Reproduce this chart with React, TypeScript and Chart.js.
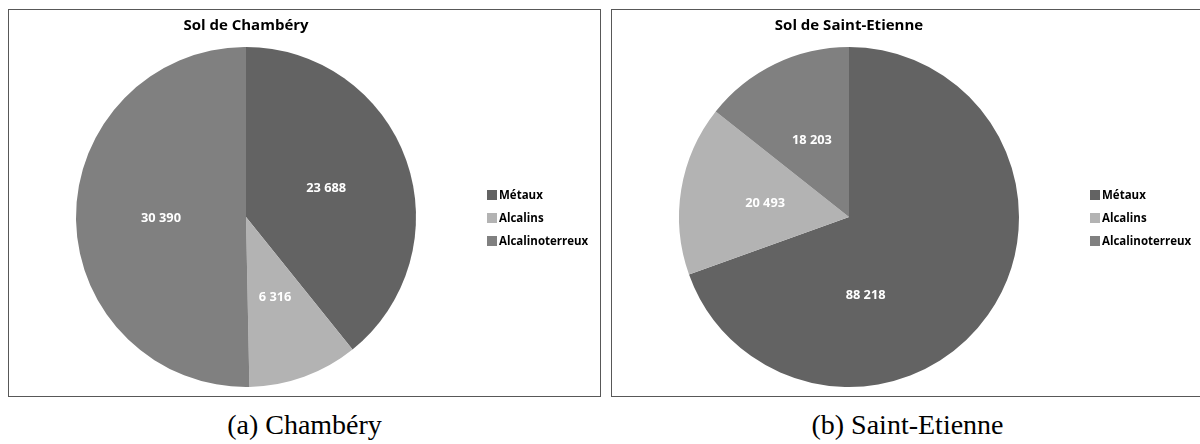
import React, { useEffect, useRef } from 'react';
import { Chart, registerables } from 'chart.js';

Chart.register(...registerables);

const CATEGORIES = ['Métaux', 'Alcalins', 'Alcalinoterreux'];
const COLORS = ['#636363', '#b3b3b3', '#808080'];
const CHAMBERY_VALUES = [23688, 6316, 30390];
const SAINT_ETIENNE_VALUES = [88218, 20493, 18203];
const TITLES = ['Sol de Chambéry', 'Sol de Saint-Etienne'];
const CAPTIONS = ['(a) Chambéry', '(b) Saint-Etienne'];

const FONT = '"Open Sans"';

const fmt = (v: number) => String(v).replace(/\B(?=(\d{3})+(?!\d))/g, ' ');

const sliceLabelsPlugin = {
  id: 'sliceLabels',
  afterDatasetsDraw(chart: any, _args: any, opts: any) {
    const ctx = chart.ctx;
    const meta = chart.getDatasetMeta(0);
    const data = chart.data.datasets[0].data as number[];
    const colors = chart.data.datasets[0].backgroundColor as string[];
    const labels = chart.data.labels as string[];
    ctx.save();
    ctx.font = `bold 12.8px ${FONT}`;
    ctx.fillStyle = '#ffffff';
    ctx.textAlign = 'center';
    ctx.textBaseline = 'middle';
    let cy = 0;
    meta.data.forEach((arc: any, i: number) => {
      const p = arc.getProps(['x', 'y', 'startAngle', 'endAngle', 'outerRadius'], true);
      cy = p.y;
      let ang = (p.startAngle + p.endAngle) / 2;
      let frac = opts.frac ?? 0.5;
      const ov = opts.overrides && opts.overrides[i];
      if (ov) {
        ang = (ov.angle * Math.PI) / 180 - Math.PI / 2;
        frac = ov.frac;
      }
      ctx.fillText(
        fmt(data[i]),
        p.x + Math.cos(ang) * p.outerRadius * frac,
        p.y + Math.sin(ang) * p.outerRadius * frac
      );
    });
    // legend
    const lx = chart.chartArea.right + 4;
    ctx.font = `bold 11.5px ${FONT}`;
    ctx.textAlign = 'left';
    labels.forEach((lab, i) => {
      const y = cy + 1 + (i - 1) * 23;
      ctx.fillStyle = colors[i];
      ctx.fillRect(lx, y - 5, 10, 10);
      ctx.fillStyle = '#000000';
      ctx.fillText(lab, lx + 12, y + 0.5);
    });
    ctx.restore();
  },
};

function PieChart({ title, values, overrides }: { title: string; values: number[]; overrides?: any }) {
  const ref = useRef<HTMLCanvasElement | null>(null);
  useEffect(() => {
    if (!ref.current) return;
    const chart = new Chart(ref.current, {
      type: 'pie',
      data: {
        labels: CATEGORIES,
        datasets: [
          {
            data: values,
            backgroundColor: COLORS,
            borderWidth: 0,
          },
        ],
      },
      options: {
        animation: false,
        responsive: false,
        layout: { padding: { left: 0, right: 117, top: 0, bottom: 9 } },
        plugins: {
          legend: { display: false },
          tooltip: { enabled: false },
          title: {
            display: true,
            text: title,
            color: '#000000',
            font: { family: 'Open Sans', size: 15, weight: 'bold' },
            padding: { top: 7, bottom: 12 },
          },
          sliceLabels: { frac: 0.5, overrides: overrides || {} },
        } as any,
      },
      plugins: [sliceLabelsPlugin],
    });
    return () => chart.destroy();
  }, []);
  return <canvas ref={ref} width={591} height={386} style={{ display: 'block', width: 591, height: 386 }} />;
}

export default function App() {
  const panelStyle = (left: number): React.CSSProperties => ({
    position: 'absolute',
    left,
    top: 9,
    width: 591,
    height: 386,
    border: '1px solid #585858',
    background: '#ffffff',
  });
  const captionStyle = (left: number): React.CSSProperties => ({
    position: 'absolute',
    left,
    top: 411,
    width: 593,
    textAlign: 'center',
    fontFamily: '"Liberation Serif", serif',
    fontSize: 28,
    lineHeight: '28px',
    color: '#000',
    whiteSpace: 'nowrap',
  });
  return (
    <div style={{ position: 'absolute', left: 0, top: 0, width: 1200, height: 444, overflow: 'hidden', background: '#fff' }}>
      <div style={panelStyle(8)}>
        <PieChart title={TITLES[0]} values={CHAMBERY_VALUES} />
      </div>
      <div style={panelStyle(611)}>
        <PieChart title={TITLES[1]} values={SAINT_ETIENNE_VALUES} overrides={{ 0: { angle: 168, frac: 0.47 } }} />
      </div>
      <div style={captionStyle(8)}>{CAPTIONS[0]}</div>
      <div style={captionStyle(611)}>{CAPTIONS[1]}</div>
    </div>
  );
}
